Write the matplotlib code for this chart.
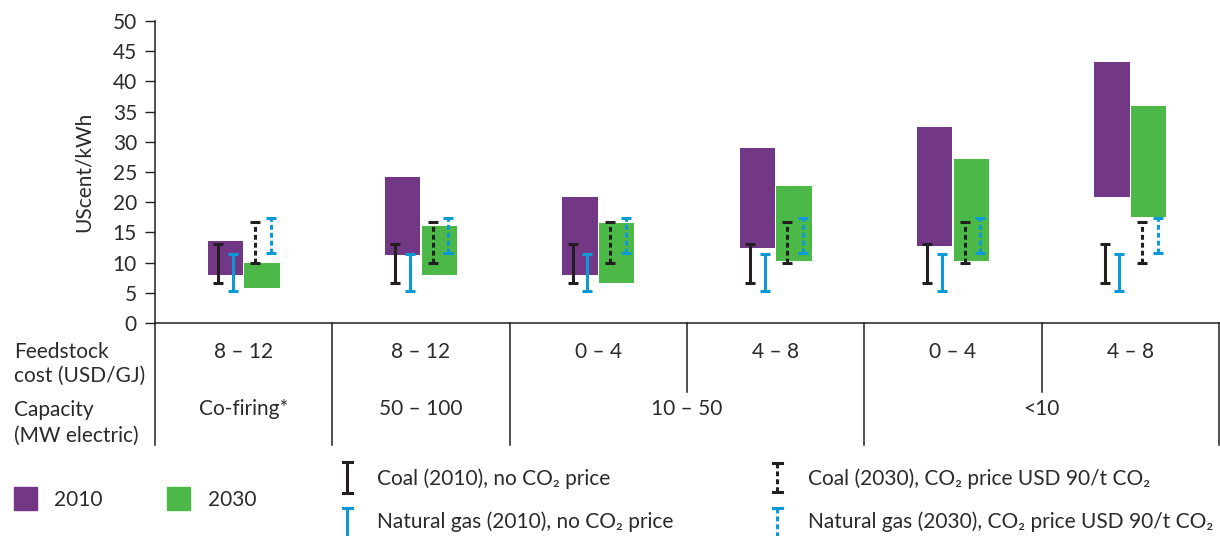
import matplotlib
matplotlib.use("Agg")
import matplotlib.pyplot as plt
from matplotlib.patches import Rectangle
from matplotlib.lines import Line2D

plt.rcParams['font.family'] = ['Lato', 'DejaVu Sans']
plt.rcParams['lines.scale_dashes'] = False

# data (UScent/kWh)
feedstock = ['8 – 12', '8 – 12', '0 – 4', '4 – 8', '0 – 4', '4 – 8']
capacity = ['Co-firing*', '50 – 100', '10 – 50', '<10']
capacity_span = [(0, 1), (1, 2), (2, 4), (4, 6)]

low_2010 = [7.9, 11.2, 7.9, 12.4, 12.7, 20.8]
high_2010 = [13.5, 24.1, 20.8, 28.9, 32.4, 43.2]
low_2030 = [5.8, 7.9, 6.6, 10.2, 10.2, 17.5]
high_2030 = [9.9, 16.0, 16.5, 22.6, 27.1, 35.9]

coal_2010 = (6.6, 13.0)
gas_2010 = (5.3, 11.4)
coal_2030 = (9.9, 16.7)
gas_2030 = (11.6, 17.4)

purple = '#723886'
green = '#4cb848'
blue = '#0c9ad7'
black = '#231f20'
text_col = '#2a2a2a'
dash = (0, (3.5, 2.2))

fig = plt.figure(figsize=(12.2, 5.36), dpi=100)
ax = fig.add_axes([155 / 1220, 1 - 323 / 536, 1064 / 1220, 302 / 536])

n = len(feedstock)
centers = [i + 0.5 for i in range(n)]
w = 0.2
ax.bar([c - 0.103 for c in centers], [h - l for h, l in zip(high_2010, low_2010)],
       bottom=low_2010, width=w, color=purple, zorder=2)
ax.bar([c + 0.103 for c in centers], [h - l for h, l in zip(high_2030, low_2030)],
       bottom=low_2030, width=w, color=green, zorder=2)

ranges = [(coal_2010, -0.145, black, '-'), (gas_2010, -0.062, blue, '-'),
          (coal_2030, 0.065, black, dash), (gas_2030, 0.155, blue, dash)]
for (lo, hi), off, col, ls in ranges:
    xs = [c + off for c in centers]
    eb = ax.errorbar(xs, [(lo + hi) / 2] * n, yerr=(hi - lo) / 2, fmt='none',
                     ecolor=col, elinewidth=2.2, capsize=3.4, capthick=2.2, zorder=3)
    eb[2][0].set_linestyle(ls)

ax.set_xlim(0, n)
ax.set_ylim(0, 50)
ax.set_yticks(range(0, 51, 5))
ax.set_xticks([])
ax.tick_params(axis='y', direction='out', length=7, width=1, pad=6,
               labelsize=15, colors=black, labelcolor=text_col)
for s in ['top', 'right']:
    ax.spines[s].set_visible(False)
for s in ['left', 'bottom']:
    ax.spines[s].set_color(black)
    ax.spines[s].set_linewidth(1.1)
ax.set_ylabel('UScent/kWh', fontsize=15, color=text_col, labelpad=14)

# table under the axis
tr = ax.get_xaxis_transform()
full = -122 / 302
short = -69 / 302
for i in range(n + 1):
    ybot = short if i in (3, 5) else full
    ax.plot([i, i], [0, ybot], transform=tr, color=black, lw=1.1, clip_on=False)
for c, lab in zip(centers, feedstock):
    ax.text(c, -29 / 302, lab, transform=tr, ha='center', va='center',
            fontsize=15, color=text_col)
for (a, b), lab in zip(capacity_span, capacity):
    ax.text((a + b) / 2, -86 / 302, lab, transform=tr, ha='center', va='center',
            fontsize=15, color=text_col)

def ftext(x, y, s, **kw):
    fig.text(x / 1220, 1 - y / 536, s, fontsize=15, color=text_col, va='center', **kw)

ftext(14, 352, 'Feedstock')
ftext(14, 376, 'cost (USD/GJ)')
ftext(14, 410, 'Capacity')
ftext(14, 436, '(MW electric)')

# legend
lax = fig.add_axes([0, 0, 1, 1])
lax.set_xlim(0, 1220)
lax.set_ylim(536, 0)
lax.axis('off')
lax.add_patch(Rectangle((14, 487), 23, 23, color=purple))
lax.add_patch(Rectangle((167, 487), 23, 23, color=green))
ftext(54, 500, '2010')
ftext(208, 500, '2030')

def icon(x, y0, y1, col, ls):
    lax.add_line(Line2D([x, x], [y0, y1], color=col, lw=2.2, linestyle=ls))
    for y in (y0, y1):
        lax.add_line(Line2D([x - 4.5, x + 4.5], [y, y], color=col, lw=2.2))

icon(347, 462, 493, black, '-')
icon(347, 508, 545, blue, '-')
icon(777, 463, 492, black, dash)
icon(777, 508, 545, blue, dash)
ftext(377, 479, 'Coal (2010), no CO₂ price')
ftext(377, 522, 'Natural gas (2010), no CO₂ price')
ftext(808, 479, 'Coal (2030), CO₂ price USD 90/t CO₂')
ftext(808, 522, 'Natural gas (2030), CO₂ price USD 90/t CO₂')

fig.savefig('out.png', dpi=100)
